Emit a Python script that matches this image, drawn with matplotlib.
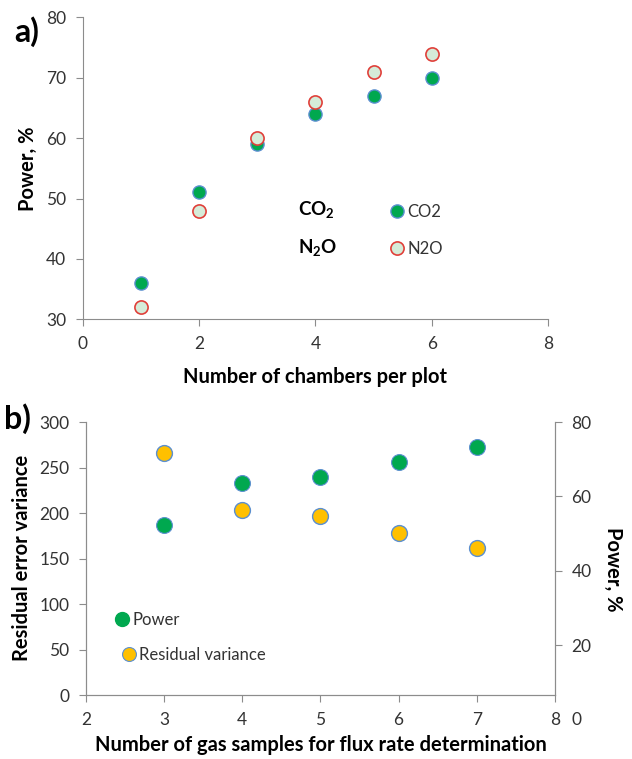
import matplotlib.pyplot as plt
from matplotlib.lines import Line2D

plt.rcParams['font.family'] = ['Lato', 'DejaVu Sans']
plt.rcParams['mathtext.fontset'] = 'custom'
plt.rcParams['mathtext.bf'] = 'Lato:bold'
plt.rcParams['mathtext.rm'] = 'Lato'

# panel a data
chambers = [1, 2, 3, 4, 5, 6]
power_co2 = [36, 51, 59, 64, 67, 70]
power_n2o = [32, 48, 60, 66, 71, 74]

# panel b data
gas_samples = [3, 4, 5, 6, 7]
power_b = [52.3, 63.5, 65.1, 69.3, 73.3]
resid_var = [266, 203, 197, 178, 161]

green = '#00a84f'
blue_edge = '#5b8fd0'
red_edge = '#e0403a'
light_fill = '#d5ecd9'
gold = '#ffc000'
spine_col = '#8c8c8c'
text_col = '#333333'

fig = plt.figure(figsize=(6.32, 7.59), dpi=100)

# ---------- a) ----------
ax1 = fig.add_axes([0.1313, 0.5793, 0.7358, 0.3979])
ax1.scatter(chambers, power_co2, s=90, c=green, edgecolors=blue_edge, linewidths=1.0, zorder=3)
ax1.scatter(chambers, power_n2o, s=90, c=light_fill, edgecolors=red_edge, linewidths=1.2, zorder=4)
ax1.set_xlim(0, 8)
ax1.set_ylim(30, 80)
ax1.set_xticks([0, 2, 4, 6, 8])
ax1.set_yticks([30, 40, 50, 60, 70, 80])
for s in ['top', 'right']:
    ax1.spines[s].set_visible(False)
for s in ['left', 'bottom']:
    ax1.spines[s].set_color(spine_col)
ax1.tick_params(colors=spine_col, labelcolor=text_col, labelsize=12.5, length=5, pad=7)
ax1.set_ylabel('Power, %', fontsize=14.5, fontweight='bold', va='center')
ax1.yaxis.set_label_coords(-0.118, 0.5)
ax1.set_xlabel('Number of chambers per plot', fontsize=14.5, fontweight='bold', va='center')
ax1.xaxis.set_label_coords(0.5, -0.191)

ax1.text(3.7, 48.1, r'CO$_\mathbf{2}$', fontsize=13.5, fontweight='bold', va='center')
ax1.text(3.7, 41.8, r'N$_\mathbf{2}$O', fontsize=13.5, fontweight='bold', va='center')

h_co2 = Line2D([], [], ls='none', marker='o', ms=9.5, mfc=green, mec=blue_edge, mew=1.0)
h_n2o = Line2D([], [], ls='none', marker='o', ms=9.5, mfc=light_fill, mec=red_edge, mew=1.2)
ax1.legend([h_co2, h_n2o], ['CO2', 'N2O'], loc='upper left', bbox_to_anchor=(0.64, 0.41),
           frameon=False, fontsize=12, handletextpad=0.1, labelspacing=1.25,
           handlelength=1.0, borderpad=0, labelcolor=text_col)

fig.text(0.022, 0.959, 'a)', fontsize=23, fontweight='bold', va='center')

# ---------- b) ----------
ax2 = fig.add_axes([0.136, 0.0843, 0.742, 0.3597])
ax3 = ax2.twinx()
ax2.scatter(gas_samples, resid_var, s=130, c=gold, edgecolors=blue_edge, linewidths=1.0, zorder=3)
ax3.scatter(gas_samples, power_b, s=130, c=green, edgecolors=blue_edge, linewidths=0.8, zorder=3)
ax2.set_xlim(2, 8)
ax2.set_ylim(0, 300)
ax2.set_yticks(range(0, 301, 50))
ax3.set_ylim(6.67, 80)
ax3.set_yticks([20, 40, 60, 80])
for a in (ax2, ax3):
    a.spines['top'].set_visible(False)
    for s in ['left', 'bottom', 'right']:
        a.spines[s].set_color(spine_col)
    a.tick_params(colors=spine_col, labelcolor=text_col, labelsize=12.5, length=5, pad=7)
ax3.text(1.035, -0.09, '0', transform=ax2.transAxes, fontsize=12.5, color=text_col, va='center')
ax2.set_ylabel('Residual error variance', fontsize=14.5, fontweight='bold', va='center')
ax2.yaxis.set_label_coords(-0.136, 0.503)
ax2.set_xlabel('Number of gas samples for flux rate determination', fontsize=14.5,
               fontweight='bold', va='center')
ax2.xaxis.set_label_coords(0.502, -0.183)
ax3.set_ylabel('Power, %', fontsize=14.5, fontweight='bold', rotation=270, va='center')
ax3.yaxis.set_label_coords(1.124, 0.46)

h_pow = Line2D([], [], ls='none', marker='o', ms=10, mfc=green, mec=green)
h_res = Line2D([], [], ls='none', marker='o', ms=10, mfc=gold, mec=blue_edge, mew=0.8)
leg1 = ax2.legend([h_pow], ['Power'], loc='center left', bbox_to_anchor=(0.042, 0.275),
                  frameon=False, fontsize=12, handletextpad=0.1, handlelength=1.0,
                  borderpad=0, labelcolor=text_col)
ax2.add_artist(leg1)
ax2.legend([h_res], ['Residual variance'], loc='center left', bbox_to_anchor=(0.056, 0.147),
           frameon=False, fontsize=12, handletextpad=0.1, handlelength=1.0,
           borderpad=0, labelcolor=text_col)

fig.text(0.006, 0.449, 'b)', fontsize=23, fontweight='bold', va='center')

fig.savefig('out.png', dpi=100)
